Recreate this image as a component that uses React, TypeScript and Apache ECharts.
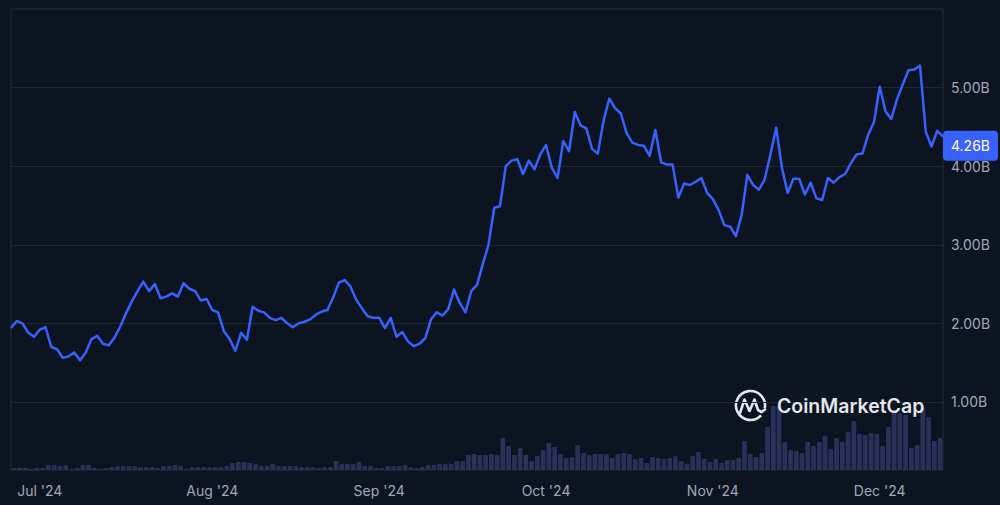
import React, { useEffect, useRef } from "react";
import * as echarts from "echarts";

// Market cap (billions USD), one point per sample, left to right
const marketCapB = [
  1.94, 2.03, 2.0, 1.88, 1.83, 1.92, 1.95, 1.7, 1.67, 1.56,
  1.58, 1.63, 1.53, 1.63, 1.8, 1.84, 1.74, 1.72, 1.82, 1.96,
  2.13, 2.28, 2.41, 2.53, 2.41, 2.5, 2.32, 2.34, 2.38, 2.34,
  2.51, 2.44, 2.41, 2.29, 2.31, 2.17, 2.14, 1.9, 1.8, 1.65,
  1.88, 1.79, 2.21, 2.16, 2.14, 2.07, 2.04, 2.07, 2.0, 1.95,
  2.0, 2.02, 2.05, 2.11, 2.15, 2.17, 2.33, 2.52, 2.55, 2.47,
  2.3, 2.19, 2.09, 2.07, 2.07, 1.94, 2.07, 1.83, 1.89, 1.77,
  1.71, 1.74, 1.81, 2.05, 2.14, 2.1, 2.18, 2.43, 2.26, 2.14,
  2.41, 2.49, 2.75, 3.0, 3.47, 3.49, 4.0, 4.07, 4.09, 3.9,
  4.07, 3.96, 4.15, 4.27, 3.98, 3.85, 4.32, 4.19, 4.69, 4.52,
  4.48, 4.22, 4.16, 4.58, 4.86, 4.74, 4.67, 4.42, 4.3, 4.27,
  4.26, 4.13, 4.46, 4.05, 4.02, 4.02, 3.6, 3.78, 3.76, 3.8,
  3.85, 3.66, 3.58, 3.44, 3.25, 3.23, 3.11, 3.38, 3.89, 3.76,
  3.7, 3.83, 4.15, 4.49, 3.98, 3.66, 3.84, 3.84, 3.64, 3.79,
  3.59, 3.57, 3.85, 3.79, 3.86, 3.9, 4.04, 4.15, 4.16, 4.4,
  4.56, 5.01, 4.7, 4.6, 4.85, 5.04, 5.22, 5.23, 5.28, 4.44,
  4.25, 4.45, 4.38,
];

// Relative trading volume (arbitrary units, unlabeled in the chart)
const relVolume = [
  2, 2, 2, 1, 2, 2, 5, 5, 4, 5,
  1, 2, 5, 5, 2, 1, 2, 3, 4, 4,
  4, 4, 3, 3, 3, 2, 4, 4, 5, 4,
  1, 3, 3, 3, 3, 3, 3, 4, 7, 8,
  8, 7, 6, 4, 4, 6, 4, 4, 4, 4,
  3, 3, 3, 2, 3, 3, 9, 6, 6, 6,
  8, 4, 4, 2, 2, 4, 4, 4, 5, 3,
  2, 3, 5, 5, 6, 6, 6, 9, 9, 15,
  16, 15, 15, 16, 15, 32, 24, 15, 22, 15,
  9, 14, 20, 27, 23, 16, 12, 13, 25, 17,
  15, 16, 16, 16, 12, 16, 17, 16, 11, 12,
  7, 13, 12, 11, 12, 14, 9, 6, 14, 18,
  11, 8, 11, 7, 10, 10, 12, 29, 16, 13,
  17, 43, 64, 64, 28, 20, 19, 17, 28, 24,
  28, 34, 21, 32, 28, 38, 49, 36, 35, 37,
  36, 24, 43, 57, 57, 55, 22, 25, 62, 53,
  29, 32,
];

const monthTickIndex = [5, 35, 64, 93, 122, 151];
const monthTickLabel = ["Jul '24", "Aug '24", "Sep '24", "Oct '24", "Nov '24", "Dec '24"];
const lastValueB = 4.26;

const LABEL_COLOR = "#a1a7bb";
const GRID_COLOR = "#222531";
const LINE_COLOR = "#3861fb";
const MARK_COLOR = "#e4e6eb";

export default function App() {
  const ref = useRef<HTMLDivElement>(null);
  useEffect(() => {
    const chart = echarts.init(ref.current!, null, { renderer: "svg" });
    const cats = marketCapB.map((_, i) => String(i));
    const volCats = relVolume.map((_, i) => String(i));
    chart.setOption({
      animation: false,
      backgroundColor: "#0d1421",
      textStyle: { fontFamily: "Inter" },
      grid: [
        { left: 11, right: 57, top: 9, bottom: 24.5, show: false },
        {
          left: 11,
          right: 57,
          top: 9,
          bottom: 35,
          show: true,
          borderColor: "#262a36",
          borderWidth: 1,
          backgroundColor: "transparent",
        },
      ],
      xAxis: [
        {
          type: "category",
          gridIndex: 0,
          data: cats,
          boundaryGap: false,
          axisLine: { show: false },
          axisTick: { show: false },
          splitLine: { show: false },
          axisLabel: {
            interval: (i: number) => monthTickIndex.includes(i),
            formatter: (_v: string, i: number) => {
              const k = monthTickIndex.indexOf(i);
              return k >= 0 ? monthTickLabel[k] : "";
            },
            color: LABEL_COLOR,
            fontSize: 14,
            margin: 3,
          },
        },
        { type: "category", gridIndex: 1, data: volCats, boundaryGap: true, show: false },
      ],
      yAxis: [
        {
          type: "value",
          gridIndex: 0,
          position: "right",
          min: 0,
          max: 6,
          interval: 1,
          axisLine: { show: false },
          axisTick: { show: false },
          splitLine: {
            show: true,
            showMinLine: false,
            showMaxLine: false,
            lineStyle: { color: GRID_COLOR, width: 1 },
          },
          axisLabel: {
            showMinLabel: false,
            showMaxLabel: false,
            formatter: (v: number) => v.toFixed(2) + "B",
            color: LABEL_COLOR,
            fontSize: 14,
            margin: 8,
          },
        },
        { type: "value", gridIndex: 1, min: 0, max: 461, show: false, splitLine: { show: false } },
      ],
      series: [
        {
          type: "bar",
          xAxisIndex: 1,
          yAxisIndex: 1,
          data: relVolume,
          barCategoryGap: "18%",
          silent: true,
          itemStyle: { color: "#283259", borderRadius: [1, 1, 0, 0] },
        },
        {
          type: "line",
          xAxisIndex: 0,
          yAxisIndex: 0,
          data: marketCapB,
          symbol: "none",
          z: 5,
          clip: false,
          lineStyle: { color: LINE_COLOR, width: 2.5, join: "round" },
          markLine: {
            silent: true,
            symbol: "none",
            z: 10,
            lineStyle: { color: "rgba(0,0,0,0)", width: 0, type: "solid" },
            data: [{ yAxis: lastValueB }],
            label: {
              show: true,
              position: "end",
              distance: 0,
              formatter: lastValueB.toFixed(2) + "B",
              backgroundColor: LINE_COLOR,
              color: "#ffffff",
              padding: [8, 8],
              borderRadius: 4,
              fontSize: 14,
              fontFamily: "Inter",
              opacity: 1,
            },
          },
        },
      ],
      graphic: [
        {
          type: "group",
          x: 734,
          y: 389,
          z: 100,
          children: [
            {
              type: "arc",
              shape: { cx: 16.5, cy: 16.5, r: 14.5, startAngle: 0.75, endAngle: 0.75 + Math.PI * 2 - 0.55 },
              style: { stroke: MARK_COLOR, lineWidth: 2.6, fill: "none" },
            },
            {
              type: "polyline",
              shape: {
                points: [
                  [6, 24],
                  [10.5, 10.5],
                  [15.5, 22],
                  [20.5, 10.5],
                  [24, 21],
                  [27.5, 23],
                  [31, 20.5],
                ],
              },
              style: { stroke: MARK_COLOR, lineWidth: 2.6, fill: "none", lineJoin: "round", lineCap: "round" },
            },
          ],
        },
        {
          type: "text",
          x: 777,
          y: 406,
          z: 100,
          style: {
            text: "CoinMarketCap",
            font: "600 19.5px Inter",
            fill: MARK_COLOR,
            verticalAlign: "middle",
          },
        },
      ],
    });
    return () => chart.dispose();
  }, []);
  return (
    <div
      ref={ref}
      style={{ position: "fixed", left: 0, top: 0, width: 1000, height: 505 }}
    />
  );
}
